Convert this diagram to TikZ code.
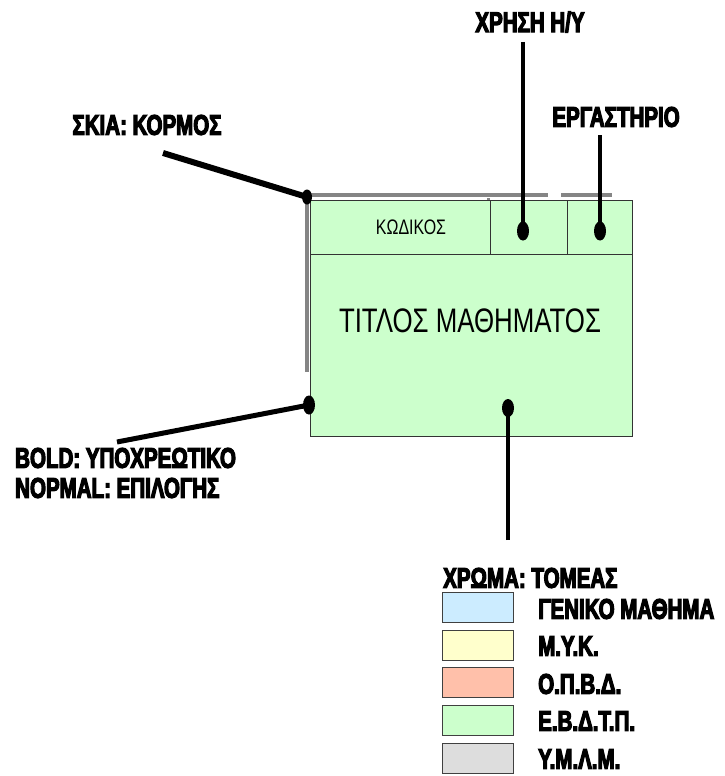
\documentclass[tikz,border=0pt]{standalone}
\usepackage{fontspec}
\setmainfont{Liberation Sans}
\newfontfamily\heavy{Liberation Sans Bold}[FakeStretch=0.72,FakeBold=4]
\newfontfamily\narrow{Liberation Sans}[FakeStretch=0.76]
\definecolor{cellgreen}{HTML}{CCFFCC}
\definecolor{genblue}{HTML}{CCECFF}
\definecolor{mykyellow}{HTML}{FFFFCC}
\definecolor{opbdsalmon}{HTML}{FFC0AA}
\definecolor{ymlmgray}{HTML}{DDDDDD}
\definecolor{shadowgray}{HTML}{858585}
\usetikzlibrary{shapes.geometric}
\tikzset{
  lbl/.style={inner sep=0pt, font=\heavy\fontsize{28.5}{30}\selectfont},
  leader/.style={line width=6pt},
  thinlead/.style={line width=4pt},
  pin/.style={ellipse, fill=black, inner sep=0pt, minimum width=11pt, minimum height=18pt},
  shadowline/.style={shadowgray, line width=4.5pt},
  cell/.style={draw=black!80, line width=0.8pt},
  swatch/.style={draw=black!75, line width=0.8pt, minimum width=71pt, minimum height=30pt, inner sep=0pt, anchor=north west},
  legtext/.style={lbl, anchor=west}
}
\begin{document}
\begin{tikzpicture}[x=1pt,y=-1pt]
\useasboundingbox (0,0) rectangle (725,776);

% shadow strokes along top and left edge of the course card
\draw[shadowline] (305,195) -- (548,195);
\draw[shadowline] (561,195) -- (612,195);
\draw[shadowline] (307,193) -- (307,372);
\draw[shadowline, line width=3pt] (488,198) -- (488,235);

% the course card
\fill[cellgreen] (310,200) rectangle (632,436);
\draw[cell] (310,200) rectangle (632,436);
\draw[cell] (310,254) -- (632,254);
\draw[cell] (490,200) -- (490,254);
\draw[cell] (567,200) -- (567,254);

\node[inner sep=0pt, font=\narrow\fontsize{21}{23}\selectfont] (code) at (411,227) {ΚΩΔΙΚΟΣ};
\node[inner sep=0pt, font=\narrow\fontsize{34}{36}\selectfont] (title) at (470,321) {ΤΙΤΛΟΣ ΜΑΘΗΜΑΤΟΣ};

% pins
\node[pin, minimum width=10pt, minimum height=15pt] (pinK) at (307,197) {};
\node[pin, minimum width=12pt, minimum height=19pt] (pinPC) at (523,231) {};
\node[pin, minimum width=12pt, minimum height=19pt] (pinLab) at (600,231) {};
\node[pin, minimum width=12pt, minimum height=19pt] (pinB) at (309,405) {};
\node[pin, minimum width=12pt, minimum height=18pt] (pinC) at (508,408) {};

% labels
\node[lbl] (lblK) at (147,125) {ΣΚΙΑ: ΚΟΡΜΟΣ};
\node[lbl] (lblPC) at (530,22) {ΧΡΗΣΗ Η/Υ};
\node[lbl] (lblLab) at (616,117) {ΕΡΓΑΣΤΗΡΙΟ};
\node[lbl, anchor=west] (lblB1) at (15,458) {BOLD: ΥΠΟΧΡΕΩΤΙΚΟ};
\node[lbl, anchor=west] (lblB2) at (15,488) {NOPMAL: ΕΠΙΛΟΓΗΣ};

% leader lines
\coordinate (kEnd) at (163,153);
\coordinate (pcEnd) at (523,42);
\coordinate (labEnd) at (600,135);
\coordinate (bEnd) at (117,442);
\coordinate (cEnd) at (508,540);
\draw[leader] (kEnd) -- (pinK.center);
\draw[thinlead] (pcEnd) -- (pinPC.center);
\draw[thinlead] (labEnd) -- (pinLab.center);
\draw[leader, line width=5pt] (bEnd) -- (pinB.center);
\draw[thinlead] (cEnd) -- (pinC.center);

% colour legend
\node[legtext] (legHead) at (443,578) {ΧΡΩΜΑ: ΤΟΜΕΑΣ};
\node[swatch, fill=genblue] (sw1) at (442,592) {};
\node[swatch, fill=mykyellow] (sw2) at (442,629.5) {};
\node[swatch, fill=opbdsalmon] (sw3) at (442,667) {};
\node[swatch, fill=cellgreen] (sw4) at (442,705) {};
\node[swatch, fill=ymlmgray] (sw5) at (442,743) {};
\node[legtext] (leg1) at (538,609) {ΓΕΝΙΚΟ ΜΑΘΗΜΑ};
\node[legtext] (leg2) at (538,646) {Μ.Υ.Κ.};
\node[legtext] (leg3) at (538,684) {Ο.Π.Β.Δ.};
\node[legtext] (leg4) at (538,721) {Ε.Β.Δ.Τ.Π.};
\node[legtext] (leg5) at (538,759) {Υ.Μ.Λ.Μ.};
\end{tikzpicture}
\end{document}
